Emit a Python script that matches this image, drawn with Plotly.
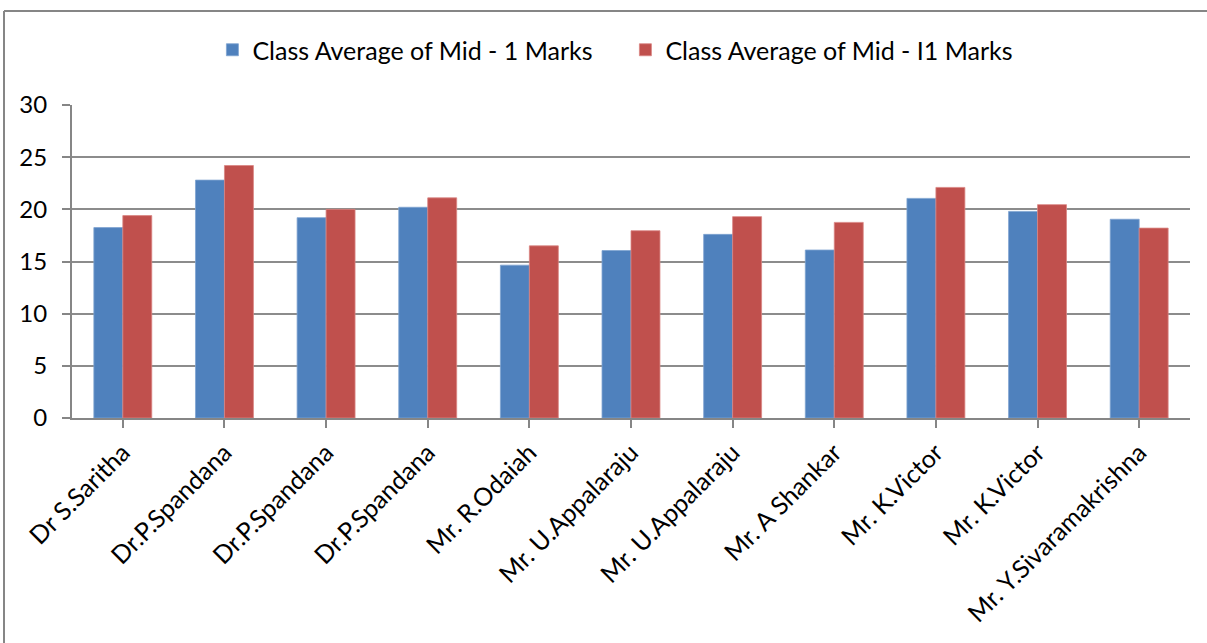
import plotly.graph_objects as go

categories = ["Dr S.Saritha", "Dr.P.Spandana", "Dr.P.Spandana", "Dr.P.Spandana",
              "Mr. R.Odaiah", "Mr. U.Appalaraju", "Mr. U.Appalaraju", "Mr. A Shankar",
              "Mr. K.Victor", "Mr. K.Victor", "Mr. Y.Sivaramakrishna"]
mid1 = [18.25, 22.8, 19.2, 20.2, 14.65, 16.05, 17.6, 16.1, 21.05, 19.8, 19.05]
mid2 = [19.4, 24.2, 20.0, 21.1, 16.5, 17.95, 19.3, 18.75, 22.1, 20.45, 18.2]
series_names = ["Class Average of Mid - 1 Marks", "Class Average of Mid - I1 Marks"]
y_ticks = [0, 5, 10, 15, 20, 25, 30]

xidx = list(range(len(categories)))

FONT = "Lato"

fig = go.Figure()
fig.add_trace(go.Bar(x=xidx, y=mid1, name=series_names[0],
                     marker=dict(color="#4F81BD", line=dict(color="#7FA3D0", width=0.8))))
fig.add_trace(go.Bar(x=xidx, y=mid2, name=series_names[1],
                     marker=dict(color="#C0504D", line=dict(color="#D98583", width=0.8))))

fig.update_layout(
    width=1207, height=643,
    margin=dict(l=72, r=17, t=105, b=225, autoexpand=False),
    paper_bgcolor="white", plot_bgcolor="white",
    barmode="group", bargap=0.43, bargroupgap=0,
    font=dict(family=FONT, size=24, color="black"),
    legend=dict(orientation="h", x=0.495, xanchor="center", y=(418 - 50) / 313,
                yanchor="middle", bgcolor="rgba(0,0,0,0)",
                font=dict(family=FONT, size=25), itemwidth=30,
                entrywidth=368, tracegroupgap=0),
    showlegend=True,
)
fig.update_xaxes(
    tickmode="array", tickvals=xidx, ticktext=categories, tickangle=-45,
    range=[-0.5, len(categories) - 0.5], automargin=False,
    showline=True, linecolor="#868686", linewidth=2,
    ticks="outside", ticklen=8, tickcolor="#868686", tickwidth=2,
    tickson="boundaries", showgrid=False,
    tickfont=dict(family=FONT, size=25),
)
fig.update_yaxes(
    range=[0, 30], tickvals=y_ticks, automargin=False,
    showline=True, linecolor="#868686", linewidth=2,
    ticks="outside", ticklen=8, tickcolor="#868686", tickwidth=2,
    showgrid=True, gridcolor="#8C8C8C", gridwidth=2,
    tickfont=dict(family=FONT, size=24), ticklabelstandoff=10,
    zeroline=False,
)
# outer chart frame (left and top edges visible)
fig.add_shape(type="line", xref="paper", yref="paper",
              x0=(4 - 72) / 1118, x1=(1207 - 72) / 1118,
              y0=(418 - 11) / 313, y1=(418 - 11) / 313,
              line=dict(color="#868686", width=2))
fig.add_shape(type="line", xref="paper", yref="paper",
              x0=(4 - 72) / 1118, x1=(4 - 72) / 1118,
              y0=(418 - 11) / 313, y1=(418 - 645) / 313,
              line=dict(color="#868686", width=2))

fig.write_html("out.html", config={"displayModeBar": False},
               post_script="document.body.style.margin='0';document.body.style.overflow='hidden';")
